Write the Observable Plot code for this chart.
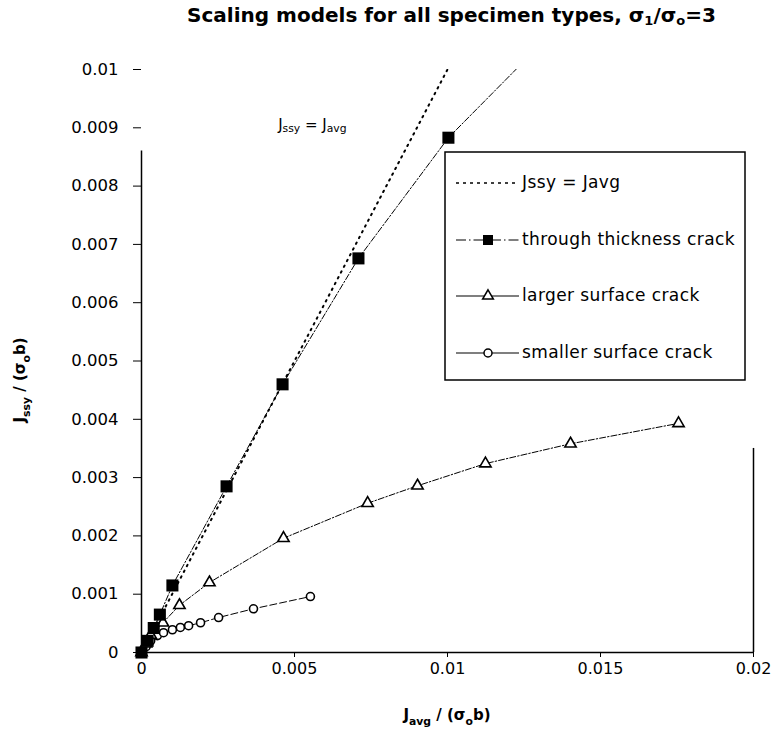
<!DOCTYPE html>
<html><head><meta charset="utf-8">
<script src="https://cdn.jsdelivr.net/npm/d3@7"></script>
<script src="https://cdn.jsdelivr.net/npm/@observablehq/plot@0.6"></script>
<style>
body{margin:0;background:#fff;}
#wrap{position:relative;width:773px;height:735px;overflow:hidden;}
#title{height:30px;width:643px;padding-left:130px;text-align:center;font:bold 20px "DejaVu Sans",sans-serif;line-height:30px;color:#000;white-space:nowrap;}
#title sub{font-size:13px;vertical-align:-3px;line-height:0;}
</style></head>
<body>
<div id="wrap">
<div id="title">Scaling models for all specimen types, σ<sub>1</sub>/σ<sub>o</sub>=3</div>
<div id="chart"></div>
</div>
<script>
// Tick values and labels
const xTicks = [0, 0.005, 0.01, 0.015, 0.02];
const xTickLabels = ["0", "0.005", "0.01", "0.015", "0.02"];
const yTicks = [0, 0.001, 0.002, 0.003, 0.004, 0.005, 0.006, 0.007, 0.008, 0.009, 0.01];
const yTickLabels = ["0", "0.001", "0.002", "0.003", "0.004", "0.005", "0.006", "0.007", "0.008", "0.009", "0.01"];

// Jssy = Javg reference line
const refX = [0, 0.0105];
const refY = [0, 0.0105];

// through thickness crack (the line's last point runs out of the frame)
const thruX = [0, 0.0002, 0.0004, 0.0006, 0.00101, 0.00278, 0.00461, 0.00709, 0.01003];
const thruY = [0, 0.0002, 0.00042, 0.00065, 0.00115, 0.00285, 0.0046, 0.00676, 0.00883];
const thruTailX = [0.01003, 0.0128];
const thruTailY = [0.00883, 0.0103];

// larger surface crack
const largeX = [0, 0.00015, 0.0003, 0.0007, 0.00124, 0.00222, 0.00464, 0.00739, 0.00902, 0.01124, 0.01402, 0.01755];
const largeY = [0, 0.00015, 0.0003, 0.00051, 0.00081, 0.0012, 0.00196, 0.00256, 0.00286, 0.00324, 0.00358, 0.00393];

// smaller surface crack
const smallX = [0, 0.00015, 0.0003, 0.00052, 0.00072, 0.00101, 0.00127, 0.00154, 0.00193, 0.00252, 0.00366, 0.00552];
const smallY = [0, 0.0001, 0.0002, 0.00029, 0.00034, 0.00039, 0.00043, 0.00046, 0.00051, 0.0006, 0.00075, 0.00096];

const legendLabels = ["Jssy = Javg", "through thickness crack", "larger surface crack", "smaller surface crack"];

const zip = (xs, ys) => xs.map((x, i) => ({x, y: ys[i]}));
const ref = zip(refX, refY);
const thru = zip(thruX, thruY);
const thruTail = zip(thruTailX, thruTailY);
const large = zip(largeX, largeY);
const small = zip(smallX, smallY);

const FONT = "DejaVu Sans";

const plot = Plot.plot({
  width: 773, height: 705,
  marginLeft: 141, marginRight: 20, marginTop: 39, marginBottom: 83,
  style: {fontFamily: FONT, fontSize: "16px", color: "#000", background: "#fff"},
  x: {domain: [0, 0.02]},
  y: {domain: [0, 0.01]},
  marks: [
    Plot.axisX({ticks: xTicks, tickFormat: (d, i) => xTickLabels[i], tickSize: 5, tickPadding: 5, label: null, fontSize: 16}),
    Plot.axisY({ticks: yTicks, tickFormat: (d, i) => yTickLabels[i], tickSize: 8, tickPadding: 15, label: null, fontSize: 16.5}),
    Plot.ruleY([0], {stroke: "#000", strokeWidth: 1.5}),
    Plot.ruleX([0], {y1: 0, y2: 0.0086, stroke: "#000", strokeWidth: 1.5}),
    Plot.ruleX([0.02], {y1: 0, y2: 0.0035, stroke: "#000", strokeWidth: 1.5}),
    Plot.line(ref, {x: "x", y: "y", stroke: "#000", strokeWidth: 2, strokeDasharray: "1.5,5", clip: true}),
    Plot.line(thru, {x: "x", y: "y", stroke: "#000", strokeWidth: 1, strokeDasharray: "6,2,1.5,2"}),
    Plot.line(thruTail, {x: "x", y: "y", stroke: "#000", strokeWidth: 1, strokeDasharray: "6,2,1.5,2", clip: true}),
    Plot.line(large, {x: "x", y: "y", stroke: "#000", strokeWidth: 1, strokeDasharray: "6,2,1.5,2"}),
    Plot.line(small, {x: "x", y: "y", stroke: "#000", strokeWidth: 1, strokeDasharray: "7,3"}),
    Plot.dot(small, {x: "x", y: "y", symbol: "circle", r: 4, fill: "#fff", stroke: "#000", strokeWidth: 1.6}),
    Plot.dot(large, {x: "x", y: "y", symbol: "triangle", r: 4.2, fill: "#fff", stroke: "#000", strokeWidth: 1.6}),
    Plot.dot(thru, {x: "x", y: "y", symbol: "square", r: 6.8, fill: "#000", stroke: "none"})
  ]
});
document.getElementById("chart").appendChild(plot);

const sx = plot.scale("x"), sy = plot.scale("y");
const svg = d3.select(plot);

function rich(g, parts, size, attrs) {
  const t = g.append("text").attr("font-family", FONT).attr("font-size", size).attr("fill", "#000");
  for (const k in attrs) t.attr(k, attrs[k]);
  let shifted = false;
  const sh = size * 0.3;
  for (const p of parts) {
    const ts = t.append("tspan").text(p.t);
    if (p.sub) {
      ts.attr("font-size", size * 0.72);
      if (!shifted) { ts.attr("dy", sh); shifted = true; }
    } else if (shifted) { ts.attr("dy", -sh); shifted = false; }
  }
  return t;
}

// annotation at the reference line
rich(svg, [{t:"J"},{t:"ssy",sub:true},{t:" = J"},{t:"avg",sub:true}], 15,
  {x: sx.apply(0.0056), y: sy.apply(0.00904), "text-anchor": "middle", "dominant-baseline": "middle"});

// axis titles
rich(svg, [{t:"J"},{t:"avg",sub:true},{t:" / (σ"},{t:"o",sub:true},{t:"b)"}], 15,
  {x: (sx.apply(0) + sx.apply(0.02)) / 2, y: 690, "text-anchor": "middle", "font-weight": "bold"});
rich(svg, [{t:"J"},{t:"ssy",sub:true},{t:" / (σ"},{t:"o",sub:true},{t:"b)"}], 15,
  {transform: "translate(25,350) rotate(-90)", "text-anchor": "middle", "font-weight": "bold"});

// legend box
const lg = svg.append("g");
lg.append("rect").attr("x", 445).attr("y", 122).attr("width", 300).attr("height", 228)
  .attr("fill", "#fff").attr("stroke", "#000").attr("stroke-width", 1.5);
const rows = [153, 210, 266, 323];
const lx0 = 456, lx1 = 519, lxm = 488, ltx = 522;
// row 1: dotted
lg.append("line").attr("x1", lx0).attr("x2", lx1).attr("y1", rows[0]).attr("y2", rows[0])
  .attr("stroke", "#000").attr("stroke-width", 1.5).attr("stroke-dasharray", "3,4");
// row 2: dash-dot with filled square
lg.append("line").attr("x1", lx0).attr("x2", lx1).attr("y1", rows[1]).attr("y2", rows[1])
  .attr("stroke", "#000").attr("stroke-width", 1.2).attr("stroke-dasharray", "10,3,1.5,3");
lg.append("rect").attr("x", lxm - 5).attr("y", rows[1] - 5).attr("width", 10).attr("height", 10).attr("fill", "#000");
// row 3: triangle
lg.append("line").attr("x1", lx0).attr("x2", lx1).attr("y1", rows[2]).attr("y2", rows[2])
  .attr("stroke", "#000").attr("stroke-width", 1.2);
lg.append("path").attr("d", d3.symbol(d3.symbolTriangle, 50)()).attr("transform", `translate(${lxm},${rows[2]})`)
  .attr("fill", "#fff").attr("stroke", "#000").attr("stroke-width", 1.5);
// row 4: circle
lg.append("line").attr("x1", lx0).attr("x2", lx1).attr("y1", rows[3]).attr("y2", rows[3])
  .attr("stroke", "#000").attr("stroke-width", 1.2);
lg.append("circle").attr("cx", lxm).attr("cy", rows[3]).attr("r", 4).attr("fill", "#fff")
  .attr("stroke", "#000").attr("stroke-width", 1.5);
legendLabels.forEach((s, i) => {
  lg.append("text").attr("x", ltx).attr("y", rows[i]).attr("dominant-baseline", "middle")
    .attr("text-anchor", "start").attr("letter-spacing", "0.4")
    .attr("font-family", FONT).attr("font-size", 17).attr("fill", "#000").text(s);
});
</script>
</body></html>
